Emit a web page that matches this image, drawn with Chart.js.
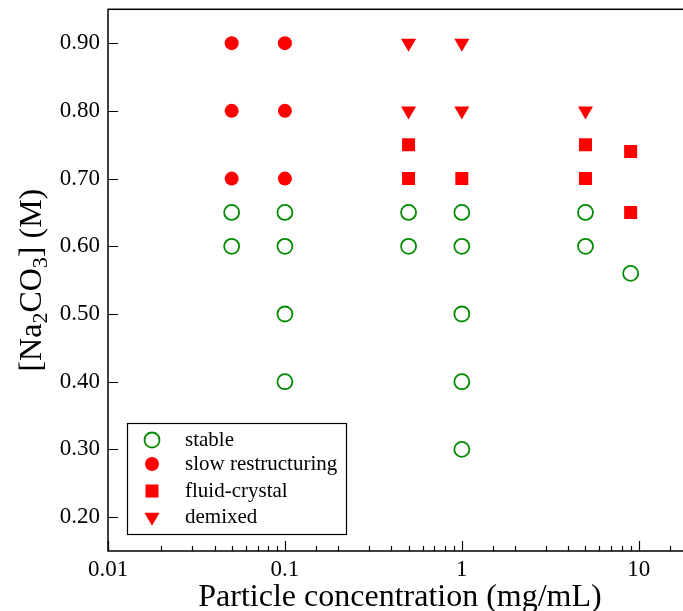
<!DOCTYPE html>
<html>
<head>
<meta charset="utf-8">
<script src="https://cdn.jsdelivr.net/npm/chart.js@4/dist/chart.umd.min.js"></script>
<style>
  html, body { margin: 0; padding: 0; background: #fff; overflow: hidden; }
  #wrap { width: 720px; height: 611px; }
</style>
</head>
<body>
<div id="wrap"><canvas id="phase" width="720" height="611"></canvas></div>
<script>
// concentration (mg/mL) and [Na2CO3] (M) for each observed state
const stableX = [0.05, 0.05, 0.1, 0.1, 0.1, 0.1, 0.5, 0.5, 1, 1, 1, 1, 1, 5, 5, 9];
const stableY = [0.60, 0.65, 0.40, 0.50, 0.60, 0.65, 0.60, 0.65, 0.30, 0.40, 0.50, 0.60, 0.65, 0.60, 0.65, 0.56];

const slowX = [0.05, 0.05, 0.05, 0.1, 0.1, 0.1];
const slowY = [0.70, 0.80, 0.90, 0.70, 0.80, 0.90];

const fluidX = [0.5, 0.5, 1, 5, 5, 9, 9];
const fluidY = [0.70, 0.75, 0.70, 0.70, 0.75, 0.65, 0.74];

const demixX = [0.5, 0.5, 1, 1, 5];
const demixY = [0.80, 0.90, 0.80, 0.90, 0.80];

const xTickLabels = [0.01, 0.1, 1, 10];
const yTicks = [0.2, 0.3, 0.4, 0.5, 0.6, 0.7, 0.8, 0.9];

const RED = '#ff0000';
const GREEN = 'rgb(0,139,0)';
const SERIF = '"Liberation Serif", "DejaVu Serif", serif';

const toPoints = (xs, ys) => xs.map((x, i) => ({ x: x, y: ys[i] }));

const datasets = [
    { label: 'stable', data: toPoints(stableX, stableY), pointStyle: 'circle', pointRadius: 7.5,
      pointBorderWidth: 1.8, pointBorderColor: GREEN, pointBackgroundColor: 'rgba(0,0,0,0)' },
    { label: 'slow restructuring', data: toPoints(slowX, slowY), pointStyle: 'circle', pointRadius: 7,
      pointBorderWidth: 0, pointBackgroundColor: RED },
    { label: 'fluid-crystal', data: toPoints(fluidX, fluidY), pointStyle: 'rect', pointRadius: 9.2,
      pointBorderWidth: 0, pointBackgroundColor: RED },
    { label: 'demixed', data: toPoints(demixX, demixY), pointStyle: 'triangle', pointRadius: 8.7,
      pointRotation: 180, pointBorderWidth: 0, pointBackgroundColor: RED }
];

const isMajor = v => xTickLabels.some(t => Math.abs(Math.log10(v) - Math.log10(t)) < 1e-6);

// frame, inward ticks, y title and the boxed legend
const decorations = {
    id: 'decorations',
    afterDraw(chart) {
        const ctx = chart.ctx;
        const a = chart.chartArea;
        const xs = chart.scales.x;
        const ys = chart.scales.y;
        ctx.save();
        ctx.strokeStyle = '#000';
        ctx.lineWidth = 1.5;
        ctx.strokeRect(a.left, a.top, a.right - a.left, a.bottom - a.top);

        ctx.lineWidth = 1.2;
        ctx.beginPath();
        xs.ticks.forEach(t => {
            const px = Math.round(xs.getPixelForValue(t.value)) + 0.5;
            const len = isMajor(t.value) ? 10 : 5;
            ctx.moveTo(px, a.bottom);
            ctx.lineTo(px, a.bottom - len);
        });
        ys.ticks.forEach(t => {
            const py = Math.round(ys.getPixelForValue(t.value)) + 0.5;
            ctx.moveTo(a.left, py);
            ctx.lineTo(a.left + 10, py);
        });
        ctx.stroke();

        // y title with subscripts
        ctx.save();
        ctx.translate(30, (a.top + a.bottom) / 2);
        ctx.rotate(-Math.PI / 2);
        const parts = [['[Na', 0], ['2', 1], ['CO', 0], ['3', 1], ['] (M)', 0]];
        const big = '32px ' + SERIF, small = '22px ' + SERIF;
        let total = 0;
        parts.forEach(p => { ctx.font = p[1] ? small : big; total += ctx.measureText(p[0]).width; });
        let cx = -total / 2;
        ctx.fillStyle = '#000';
        ctx.textBaseline = 'alphabetic';
        parts.forEach(p => {
            ctx.font = p[1] ? small : big;
            ctx.fillText(p[0], cx, p[1] ? 17 : 11);
            cx += ctx.measureText(p[0]).width;
        });
        ctx.restore();

        // legend box
        const lx = a.left + 19, ly = a.bottom - 128, lw = 219, lh = 111;
        ctx.lineWidth = 1.2;
        ctx.strokeRect(lx + 0.5, ly + 0.5, lw, lh);
        const rows = [17, 41, 68, 94];
        ctx.font = '21px ' + SERIF;
        ctx.textBaseline = 'middle';
        chart.data.datasets.forEach((ds, i) => {
            const y = ly + rows[i];
            ctx.fillStyle = ds.pointBackgroundColor;
            ctx.strokeStyle = ds.pointBorderColor || RED;
            ctx.lineWidth = ds.pointBorderWidth;
            Chart.helpers.drawPoint(ctx, {
                pointStyle: ds.pointStyle,
                radius: ds.pointRadius,
                rotation: ds.pointRotation || 0,
                borderWidth: ds.pointBorderWidth
            }, lx + 25, y);
            ctx.fillStyle = '#000';
            ctx.fillText(ds.label, lx + 58, y);
        });
        ctx.restore();
    }
};

new Chart(document.getElementById('phase'), {
    type: 'scatter',
    data: { datasets: datasets },
    options: {
        responsive: false,
        animation: false,
        devicePixelRatio: 1,
        layout: { padding: { top: 9, right: 28, left: 0, bottom: 0 } },
        plugins: { legend: { display: false }, tooltip: { enabled: false } },
        scales: {
            x: {
                type: 'logarithmic',
                min: 0.01,
                max: 20,
                grid: { display: false },
                border: { display: false },
                afterFit: s => { s.height = 60; s.paddingLeft = 0; s.paddingRight = 0; },
                ticks: {
                    autoSkip: false,
                    maxRotation: 0,
                    padding: -3,
                    color: '#000',
                    font: { family: SERIF, size: 23 },
                    callback: v => isMajor(v) ? String(v) : ''
                },
                title: {
                    display: true,
                    text: 'Particle concentration (mg/mL)',
                    color: '#000',
                    font: { family: SERIF, size: 32 },
                    padding: { top: 0, bottom: -6 }
                }
            },
            y: {
                min: 0.15,
                max: 0.95,
                grid: { display: false },
                border: { display: false },
                afterFit: s => { s.width = 108; s.paddingTop = 0; s.paddingBottom = 0; },
                afterBuildTicks: s => { s.ticks = yTicks.map(v => ({ value: v })); },
                ticks: {
                    padding: 0,
                    color: '#000',
                    font: { family: SERIF, size: 23 },
                    callback: v => v.toFixed(2)
                }
            }
        }
    },
    plugins: [decorations]
});
</script>
</body>
</html>
